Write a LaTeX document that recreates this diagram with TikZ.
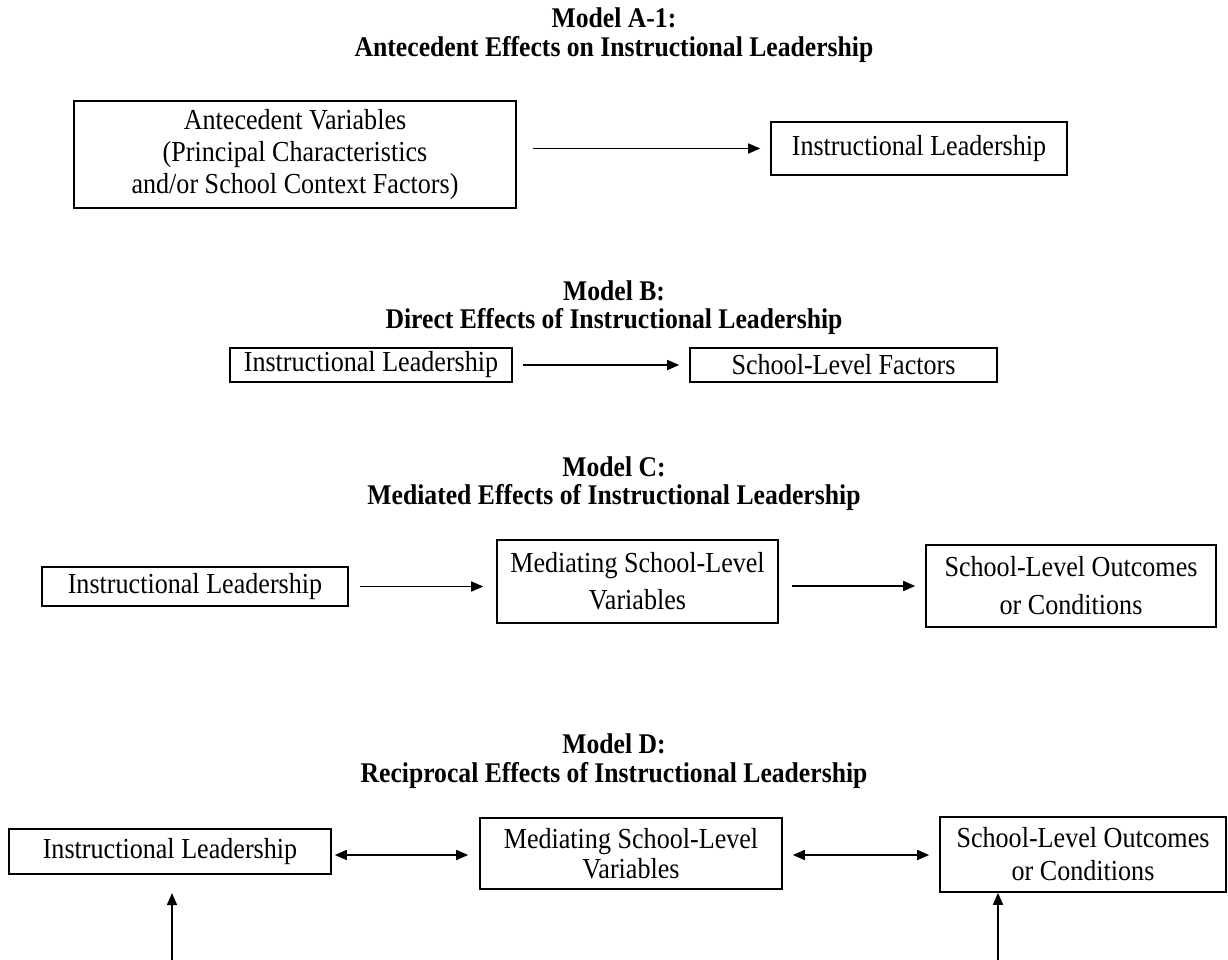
\documentclass[tikz,border=0pt]{standalone}
\usepackage{fontspec}
\setmainfont{Liberation Serif}[FakeStretch=0.9]
\usetikzlibrary{arrows.meta}
\begin{document}
\begin{tikzpicture}[x=1pt,y=-1pt,
  box/.style={draw,line width=1.6pt,inner sep=0pt,align=center,font=\fontsize{29}{32}\selectfont},
  ttl/.style={inner sep=0pt,align=center,font=\bfseries\fontsize{28.5}{30}\selectfont},
  arr/.style={line width=1.6pt,-{Triangle[length=12pt,width=10pt]}},
  darr/.style={line width=1.6pt,{Triangle[length=12pt,width=10pt]}-{Triangle[length=12pt,width=10pt]}}]
\useasboundingbox (0,0) rectangle (1228,960);
% Model A-1
\node[ttl] (tA1) at (614,18) {Model A-1:};
\node[ttl] (tA2) at (614,50) {Antecedent Effects on Instructional Leadership};
\node[box,minimum width=442pt,minimum height=107pt] (a1) at (295,154.5) {Antecedent Variables\\(Principal Characteristics\\and/or School Context Factors)};
\node[box,minimum width=296pt,minimum height=53pt] (a2) at (919,148.5) {Instructional Leadership};
\coordinate (a1e) at (533,148.5);
\draw[arr] (a1e) -- ([xshift=-10pt]a2.west);
% Model B
\node[ttl] (tB1) at (614,291) {Model B:};
\node[ttl] (tB2) at (614,321) {Direct Effects of Instructional Leadership};
\node[box,minimum width=282pt,minimum height=34pt] (b1) at (371,365) {Instructional Leadership};
\node[box,minimum width=307pt,minimum height=34pt] (b2) at (843.5,365) {School-Level Factors};
\draw[arr] ([xshift=10pt]b1.east) -- ([xshift=-10pt]b2.west);
% Model C
\node[ttl] (tC1) at (614,467) {Model C:};
\node[ttl] (tC2) at (614,497) {Mediated Effects of Instructional Leadership};
\node[box,minimum width=306pt,minimum height=39pt] (c1) at (195,586.5) {Instructional Leadership};
\node[box,minimum width=281pt,minimum height=83pt,font=\fontsize{29}{37}\selectfont] (c2) at (637.5,581.5) {Mediating School-Level\\Variables};
\node[box,minimum width=290pt,minimum height=82pt,font=\fontsize{29}{38}\selectfont] (c3) at (1071,586) {School-Level Outcomes\\or Conditions};
\draw[arr] ([xshift=11pt]c1.east) -- ([xshift=-13pt]c2.west |- c1.east);
\draw[arr] ([xshift=13pt]c2.east |- c3.west) -- ([xshift=-10pt]c3.west);
% Model D
\node[ttl] (tD1) at (614,744) {Model D:};
\node[ttl] (tD2) at (614,775) {Reciprocal Effects of Instructional Leadership};
\node[box,minimum width=322pt,minimum height=45pt] (d1) at (170,851.5) {Instructional Leadership};
\node[box,minimum width=302pt,minimum height=71pt,font=\fontsize{29}{30}\selectfont] (d2) at (631,853.5) {Mediating School-Level\\Variables};
\node[box,minimum width=286pt,minimum height=75pt,font=\fontsize{29}{33}\selectfont] (d3) at (1083,854.5) {School-Level Outcomes\\or Conditions};
\draw[darr] ([xshift=3pt]d1.east |- 0,855) -- ([xshift=-11pt]d2.west |- 0,855);
\draw[darr] ([xshift=10pt]d2.east |- 0,855) -- ([xshift=-10pt]d3.west |- 0,855);
\coordinate (u1s) at (172,960);
\coordinate (u1e) at (172,893);
\coordinate (u2s) at (998,960);
\draw[arr] (u1s) -- (u1e);
\draw[arr] (u2s) -- (u2s |- d3.south);
\end{tikzpicture}
\end{document}
